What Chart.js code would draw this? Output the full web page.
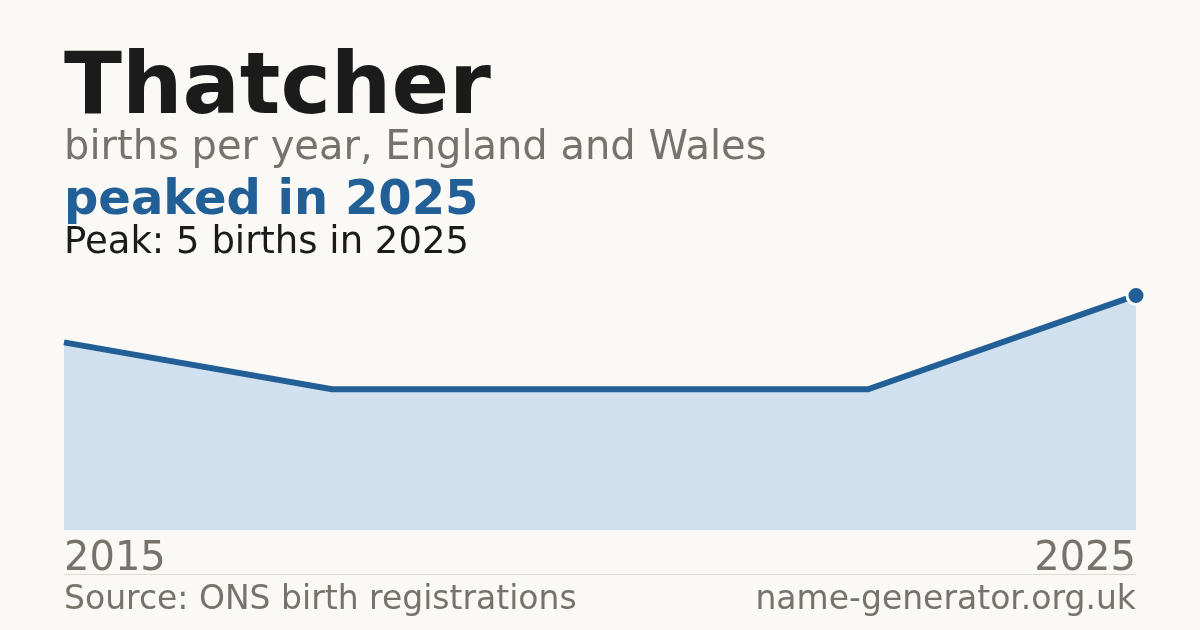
<!DOCTYPE html>
<html>
<head>
<meta charset="utf-8">
<script src="https://cdn.jsdelivr.net/npm/chart.js@4"></script>
<style>
  html, body { margin: 0; padding: 0; }
  body { width: 1200px; height: 630px; background: #faf9f5; position: relative; overflow: hidden;
         font-family: "DejaVu Sans", sans-serif; }
  .t { position: absolute; left: 64px; white-space: nowrap; line-height: 1; }
  #title { top: 41px; font-size: 85px; font-weight: bold; color: #1b1b1b; }
  #sub { top: 125px; font-size: 40px; color: #77726b; }
  #peaked { top: 173px; font-size: 48px; font-weight: bold; color: #215f96; }
  #peak { top: 222px; font-size: 37px; color: #1b1b1b; }
  #src { top: 581px; font-size: 33px; color: #77726b; }
  #site { top: 581px; left: auto; right: 64px; font-size: 33px; color: #77726b; }
  #rule { position: absolute; left: 64px; width: 1072px; top: 574px; height: 1px; background: #dcd9d1; }
  #wrap { position: absolute; left: 0; top: 0; width: 1200px; height: 630px; }
</style>
</head>
<body>
<div id="wrap"><canvas id="c" width="1200" height="630"></canvas></div>
<div class="t" id="title">Thatcher</div>
<div class="t" id="sub">births per year, England and Wales</div>
<div class="t" id="peaked">peaked in 2025</div>
<div class="t" id="peak">Peak: 5 births in 2025</div>
<div id="rule"></div>
<div class="t" id="src">Source: ONS birth registrations</div>
<div class="t" id="site">name-generator.org.uk</div>
<script>
// only the first and last years are labelled in the picture
var yearLabels = ['2015', '', '', '', '2025'];
var births = [4, 3, 3, 3, 5];
var peakIndex = 4;

var blue = '#215f96';

var ctx = document.getElementById('c').getContext('2d');
new Chart(ctx, {
  type: 'line',
  data: {
    labels: yearLabels,
    datasets: [{
      data: births,
      borderColor: blue,
      borderWidth: 6,
      backgroundColor: '#d0e0ef',
      fill: 'origin',
      tension: 0,
      clip: false,
      pointRadius: births.map(function(v, i) { return i == peakIndex ? 9 : 0; }),
      pointBackgroundColor: blue,
      pointBorderColor: '#faf9f5',
      pointBorderWidth: 3
    }]
  },
  options: {
    responsive: false,
    animation: false,
    devicePixelRatio: 1,
    layout: { padding: { left: 64, right: 64, top: 272, bottom: 48 } },
    plugins: { legend: { display: false }, tooltip: { enabled: false } },
    scales: {
      x: {
        offset: false,
        grid: { display: false },
        border: { display: false },
        ticks: {
          autoSkip: false,
          maxRotation: 0,
          align: 'inner',
          padding: -2,
          color: '#77726b',
          font: { family: 'DejaVu Sans', size: 40 }
        }
      },
      y: {
        display: false,
        min: 0,
        max: 5.5
      }
    }
  }
});
</script>
</body>
</html>
